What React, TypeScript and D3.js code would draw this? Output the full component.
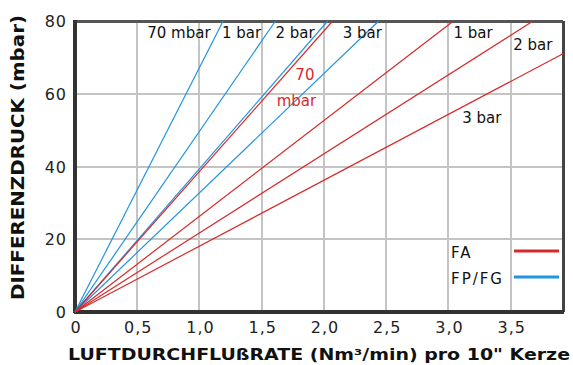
import React from 'react'
import * as d3 from 'd3'

// FP/FG filter (blue) – flow at which each line leaves the chart
const fpNames = ['70 mbar', '1 bar', '2 bar', '3 bar']
const fpFlow = [1.19, 1.61, 2.03, 2.44]
const fpDrop = [80, 80, 80, 80]

// FA filter (red)
const faNames = ['70 mbar', '1 bar', '2 bar', '3 bar']
const faFlow = [2.07, 3.04, 3.68, 3.92]
const faDrop = [80, 80, 80, 71]

const xTicks = [0, 0.5, 1, 1.5, 2, 2.5, 3, 3.5]
const yTicks = [0, 20, 40, 60, 80]

// curve labels: text, flow, pressure, colour key
const labelText = ['70 mbar', '1 bar', '2 bar', '3 bar', '1 bar', '2 bar', '3 bar', '70', 'mbar']
const labelFlow = [0.58, 1.18, 1.61, 2.15, 3.04, 3.52, 3.11, 1.77, 1.62]
const labelDrop = [75.3, 75.3, 75.3, 75.3, 75.3, 72, 52, 63.8, 56.6]
const labelRed = [false, false, false, false, false, false, false, true, true]

const legendNames = ['FA', 'FP/FG']

const W = 573
const H = 365
const RED = '#d62a2a'
const BLUE = '#2294e0'

const x = d3.scaleLinear().domain([0, 3.92]).range([75, 563])
const y = d3.scaleLinear().domain([0, 80]).range([312, 21])

const line = d3
  .line<[number, number]>()
  .x(d => x(d[0]))
  .y(d => y(d[1]))

const fmt = (v: number) => (v === 0 ? '0' : d3.format('.1f')(v).replace('.', ','))

export default function App() {
  const fpLines = fpFlow.map((f, i) => line([[0, 0], [f, fpDrop[i]]]))
  const faLines = faFlow.map((f, i) => line([[0, 0], [f, faDrop[i]]]))

  return (
    <svg
      width={W}
      height={H}
      style={{ position: 'absolute', left: 0, top: 0, background: '#fff' }}
      fontFamily="DejaVu Sans, sans-serif"
    >
      {/* grid */}
      <g stroke="#c4c4c4" strokeWidth={2} shapeRendering="crispEdges">
        {xTicks.slice(1).map(t => (
          <line key={'gx' + t} x1={x(t)} x2={x(t)} y1={y(0)} y2={y(80)} />
        ))}
        {yTicks.slice(1, -1).map(t => (
          <line key={'gy' + t} x1={x(0)} x2={x.range()[1]} y1={y(t)} y2={y(t)} />
        ))}
      </g>

      {/* frame */}
      <g fill="none" shapeRendering="crispEdges">
        <line x1={x(0)} x2={x.range()[1]} y1={y(80)} y2={y(80)} stroke="#555" strokeWidth={3} />
        <line x1={x.range()[1]} x2={x.range()[1]} y1={y(80)} y2={y(0)} stroke="#444" strokeWidth={3} />
        <line x1={x(0)} x2={x(0)} y1={y(80) - 1} y2={y(0) + 1} stroke="#333" strokeWidth={4} />
        <line x1={x(0) - 1} x2={x.range()[1] + 1} y1={y(0)} y2={y(0)} stroke="#333" strokeWidth={4} />
      </g>

      {/* curves */}
      <g fill="none" strokeWidth={1.2}>
        {fpLines.map((d, i) => (
          <path key={'fp' + fpNames[i]} d={d || ''} stroke={BLUE} />
        ))}
        {faLines.map((d, i) => (
          <path key={'fa' + faNames[i]} d={d || ''} stroke={RED} />
        ))}
      </g>

      {/* curve labels */}
      <g fontSize={15}>
        {labelText.map((t, i) => (
          <text key={'l' + i} x={x(labelFlow[i])} y={y(labelDrop[i])} fill={labelRed[i] ? RED : '#111'}>
            {t}
          </text>
        ))}
      </g>

      {/* tick labels */}
      <g fontSize={16} fill="#222" letterSpacing={1}>
        {xTicks.map(t => (
          <text key={'tx' + t} x={x(t) + 1} y={333} textAnchor="middle">
            {fmt(t)}
          </text>
        ))}
        {yTicks.map(t => (
          <text key={'ty' + t} x={67} y={y(t) + 6} textAnchor="end">
            {t}
          </text>
        ))}
      </g>

      {/* legend */}
      <g fontSize={15} fill="#111" letterSpacing={2}>
        {legendNames.map((n, i) => (
          <g key={n}>
            <text x={451} y={258 + i * 26}>
              {n}
            </text>
            <line
              x1={514}
              x2={559}
              y1={251 + i * 26}
              y2={251 + i * 26}
              stroke={i === 0 ? RED : BLUE}
              strokeWidth={3}
            />
          </g>
        ))}
      </g>

      {/* axis titles */}
      <text
        x={68}
        y={360}
        fontSize={16}
        fontWeight="bold"
        fill="#111"
        textLength={502}
        lengthAdjust="spacingAndGlyphs"
      >
        LUFTDURCHFLUßRATE (Nm³/min) pro 10" Kerze
      </text>
      <text
        transform="translate(24,300) rotate(-90)"
        x={0}
        y={0}
        fontSize={17}
        fontWeight="bold"
        fill="#111"
        textLength={285}
        lengthAdjust="spacingAndGlyphs"
      >
        DIFFERENZDRUCK (mbar)
      </text>
    </svg>
  )
}
